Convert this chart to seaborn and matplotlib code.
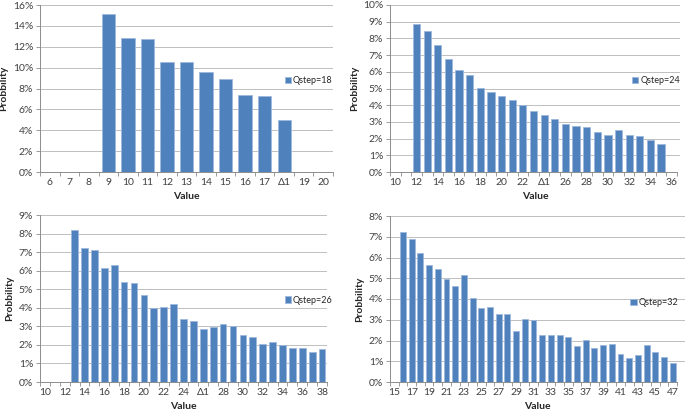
import matplotlib

matplotlib.use("Agg")
import matplotlib.pyplot as plt
import numpy as np
import pandas as pd
import seaborn as sns
from matplotlib.ticker import FuncFormatter, FixedLocator

# Qstep=18: values 6..20 (the "18" category is printed as "Δ1" in the source)
cats_18 = ["6", "7", "8", "9", "10", "11", "12", "13", "14", "15", "16", "17", "Δ1", "19", "20"]
prob_18 = [0, 0, 0, 15.1, 12.8, 12.7, 10.5, 10.5, 9.6, 8.9, 7.4, 7.3, 5.0, 0, 0]

# Qstep=24: values 10..36
cats_24 = [str(v) for v in range(10, 24)] + ["Δ1"] + [str(v) for v in range(25, 37)]
prob_24 = [0, 0, 8.85, 8.45, 7.6, 6.75, 6.1, 5.8, 5.02, 4.82, 4.57, 4.3, 4.03, 3.68,
           3.42, 3.17, 2.87, 2.73, 2.67, 2.4, 2.22, 2.5, 2.22, 2.13, 1.9, 1.68, 0]

# Qstep=26: values 10..38
cats_26 = [str(v) for v in range(10, 26)] + ["Δ1"] + [str(v) for v in range(27, 39)]
prob_26 = [0, 0, 0, 8.2, 7.22, 7.12, 6.15, 6.3, 5.4, 5.35, 4.67, 4.0, 4.05, 4.23, 3.38,
           3.3, 2.88, 2.95, 3.1, 3.0, 2.53, 2.45, 2.05, 2.15, 2.0, 1.85, 1.85, 1.62, 1.77]

# Qstep=32: values 15..47
cats_32 = [str(v) for v in range(15, 48)]
prob_32 = [0, 7.22, 6.9, 6.22, 5.65, 5.43, 4.97, 4.63, 5.17, 4.05, 3.55, 3.6, 3.28, 3.28,
           2.48, 3.05, 3.0, 2.27, 2.27, 2.25, 2.15, 1.75, 2.02, 1.62, 1.77, 1.83, 1.37,
           1.17, 1.28, 1.77, 1.43, 1.2, 0.92]

series_names = ["Qstep=18", "Qstep=24", "Qstep=26", "Qstep=32"]
y_max = [16, 10, 9, 8]
y_step = [2, 1, 1, 1]
label_every = [1, 2, 2, 2]

BAR = "#4F81BD"
EDGE = "#9DB9DC"
GRID = "#BFBFBF"
AXIS = "#8C8C8C"

sns.set_theme(style="whitegrid")
plt.rcParams["font.family"] = ["Lato", "DejaVu Sans"]

fig = plt.figure(figsize=(6.85, 4.12), dpi=100)
W, H = 685, 412
# axes boxes in pixels: left, top, right (end of category axis), bottom, gridline end
boxes = [(40, 5, 333, 172, 333), (390, 5, 677, 172, 680),
         (40, 215, 327, 382, 327), (390, 216, 677, 382, 685)]
legend_anchor = [(0.835, 0.545), (0.835, 0.545), (0.852, 0.49), (0.815, 0.48)]

panels = [(cats_18, prob_18), (cats_24, prob_24), (cats_26, prob_26), (cats_32, prob_32)]

for i, (cats, probs) in enumerate(panels):
    l, t, r, b, g = boxes[i]
    n = len(cats)
    extra = (g - r) / ((r - l) / n)
    ax = fig.add_axes([l / W, 1 - b / H, (g - l) / W, (b - t) / H])
    df = pd.DataFrame({"value": cats, "prob": probs})
    sns.barplot(data=df, x="value", y="prob", order=cats, color=BAR, width=0.68,
                edgecolor=EDGE, linewidth=0.6, saturation=1, label=series_names[i], ax=ax)

    ax.set_xlim(-0.5, n - 0.5 + extra)
    ax.set_ylim(0, y_max[i])
    ax.set_yticks(np.arange(0, y_max[i] + 0.01, y_step[i]))
    ax.yaxis.set_major_formatter(FuncFormatter(lambda v, _: f"{v:.0f}%"))

    shown = [c if k % label_every[i] == 0 else "" for k, c in enumerate(cats)]
    ax.set_xticks(range(n))
    ax.set_xticklabels(shown)
    ax.xaxis.set_minor_locator(FixedLocator(np.arange(-0.5, n, 1)))
    ax.tick_params(axis="x", which="major", length=0, labelsize=7.5, colors="#404040", pad=4)
    ax.tick_params(axis="x", which="minor", length=3, width=0.6, color=AXIS, bottom=True)
    ax.tick_params(axis="y", length=3, width=0.6, color=AXIS, labelsize=7.5,
                   labelcolor="#404040", left=True, pad=2)

    ax.grid(axis="y", color=GRID, linewidth=0.7)
    ax.grid(axis="x", visible=False)
    ax.set_axisbelow(True)
    for side in ["top", "right"]:
        ax.spines[side].set_visible(False)
    for side in ["left", "bottom"]:
        ax.spines[side].set_color(AXIS)
        ax.spines[side].set_linewidth(0.7)
    ax.spines["bottom"].set_bounds(-0.5, n - 0.5)

    ax.set_xlabel("Value", fontsize=7.5, fontweight="bold", labelpad=4)
    ax.set_ylabel("Probbility", fontsize=7.5, fontweight="bold", labelpad=3)
    ax.legend(loc="center left", bbox_to_anchor=legend_anchor[i], frameon=False,
              fontsize=6.5, handlelength=0.7, handleheight=0.7, handletextpad=0.2,
              borderpad=0, borderaxespad=0)

fig.savefig("out.png", dpi=100)
